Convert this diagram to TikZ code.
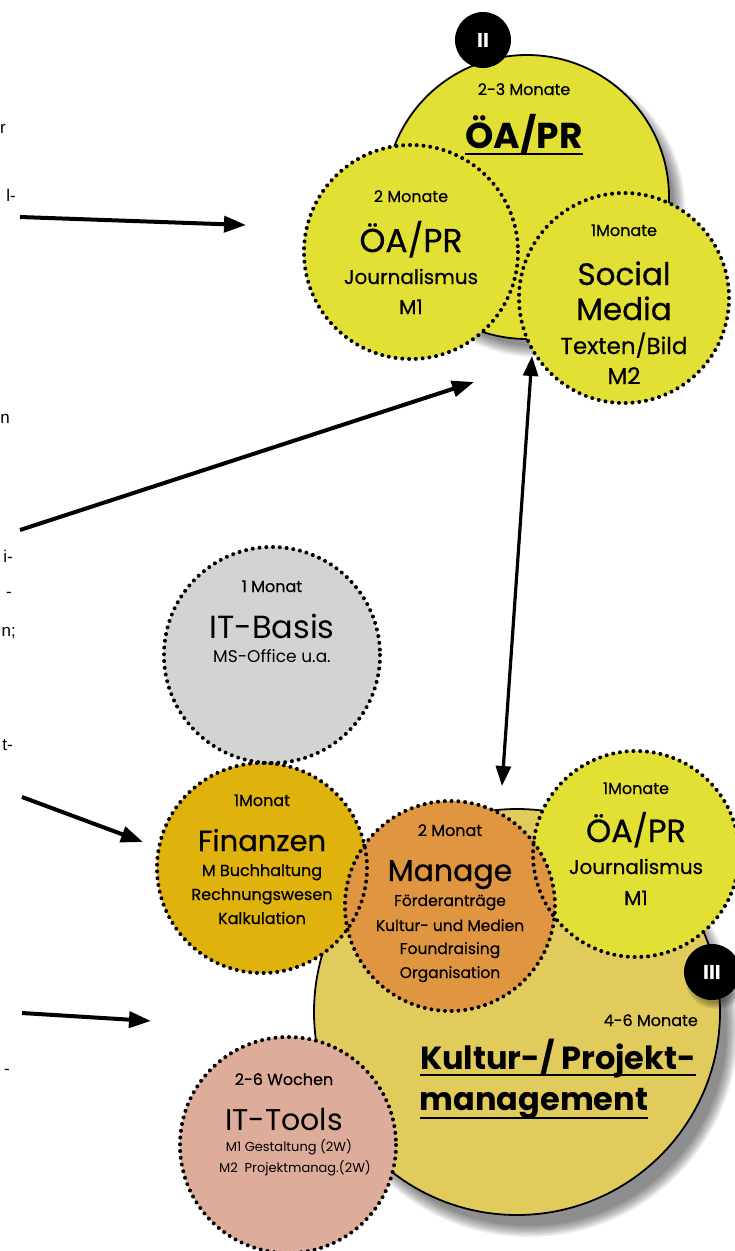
\documentclass[tikz,border=0pt]{standalone}
\usepackage{fontspec}
\setmainfont{Poppins}
\newfontfamily\med{Poppins}[FakeBold=0.6]
\newfontfamily\arialf{Liberation Sans}
\usetikzlibrary{arrows.meta,calc,decorations.markings}
\definecolor{yel}{RGB}{226,224,52}
\definecolor{gry}{RGB}{211,211,211}
\definecolor{fin}{RGB}{224,178,14}
\definecolor{mng}{RGB}{224,150,64}
\definecolor{kul}{RGB}{224,203,92}
\definecolor{pnk}{RGB}{221,172,154}
\newcommand\fs[1]{\fontsize{#1}{#1}\selectfont}
\begin{document}
\begin{tikzpicture}[x=1pt,y=-1pt,
  dots/.style={decoration={markings, mark=between positions 0 and 0.999 step 6.8pt with {\fill[black] (0,0) circle[radius=2pt];}}, decorate},
  solidb/.style={draw=black, line width=1.8pt},
  lbl/.style={inner sep=0pt, anchor=base, align=center},
  frag/.style={inner sep=0pt, anchor=base east, font=\arialf\fs{17}},
  arr/.style={line width=4pt, -{Triangle[length=22pt,width=16pt]}},
  darr/.style={line width=3.2pt, {Triangle[length=20pt,width=15pt]}-{Triangle[length=20pt,width=15pt]}},
  badge/.style={circle, fill=black, text=white, inner sep=0pt, minimum size=56pt, font=\bfseries\fs{20}}]
\useasboundingbox (0,0) rectangle (735,1251);

% ---------- top group ----------
\coordinate (topc) at (527,197);
\foreach \k in {0,...,7}
  \fill[black,opacity=0.07] ($(topc)+(10,12)$) circle ({148-1.6*\k});
\fill[yel] (topc) circle (142);
\draw[solidb] (topc) circle (142);
\node[badge] (b2) at (483,40) {II};

\coordinate (oac) at (411,252);
\coordinate (smc) at (624,298);
\fill[yel] (oac) circle (107);
\fill[yel] (smc) circle (105);
\path[dots] (oac) circle (107);
\path[dots] (smc) circle (105);

\node[lbl, font=\med\fs{16}] (t1) at (524,95) {2-3 Monate};
\node[lbl, font=\bfseries\fs{36}] (t2) at (524,148) {ÖA/PR};
\draw[line width=2.2pt] ($(t2.base west)+(0,6)$) -- ($(t2.base east)+(0,6)$);

\node[lbl, font=\med\fs{16}] (t3) at (411,202) {2 Monate};
\node[lbl, font=\med\fs{33}] (t4) at (411,252) {ÖA/PR};
\node[lbl, font=\med\fs{20}] (t5) at (411,284) {Journalismus};
\node[lbl, font=\med\fs{20}] (t6) at (411,314) {M1};

\node[lbl, font=\med\fs{16}] (t7) at (624,236) {1Monate};
\node[lbl, font=\med\fs{31}] (t8) at (624,285) {Social};
\node[lbl, font=\med\fs{31}] (t9) at (624,320) {Media};
\node[lbl, font=\med\fs{23}] (t10) at (624,354) {Texten/Bild};
\node[lbl, font=\med\fs{23}] (t11) at (624,384) {M2};

% ---------- bottom group ----------
\coordinate (kulc) at (517,1012);
\foreach \k in {0,...,7}
  \fill[black,opacity=0.07] ($(kulc)+(12,16)$) circle ({209-1.6*\k});
\fill[kul] (kulc) circle (203);
\draw[solidb] (kulc) circle (203);

\coordinate (itbc) at (272,655);
\coordinate (finc) at (262,868);
\coordinate (manc) at (450,906);
\coordinate (oa3c) at (636,854);
\coordinate (ittc) at (288,1145);
\fill[gry] (itbc) circle (108);
\fill[fin] (finc) circle (105);
\fill[yel] (oa3c) circle (103);
\fill[mng] (manc) circle (105);
\fill[pnk] (ittc) circle (108);
\path[dots] (itbc) circle (108);
\path[dots] (finc) circle (105);
\path[dots] (oa3c) circle (103);
\path[dots] (manc) circle (105);
\path[dots] (ittc) circle (108);

\foreach \k in {0,...,4}
  \fill[black,opacity=0.08] (716,978) circle ({31-1.5*\k});
\node[badge] (b3) at (712,972) {III};

\node[lbl, font=\med\fs{16}] (u1) at (272,592) {1 Monat};
\node[lbl, font=\fs{32}] (u2) at (272,638) {IT-Basis};
\node[lbl, font=\fs{17}] (u3) at (272,662) {MS-Office u.a.};

\node[lbl, font=\med\fs{16}] (f1) at (262,806) {1Monat};
\node[lbl, font=\med\fs{29}] (f2) at (262,851) {Finanzen};
\node[lbl, font=\med\fs{16}] (f3) at (262,876) {M Buchhaltung};
\node[lbl, font=\med\fs{16}] (f4) at (262,900) {Rechnungswesen};
\node[lbl, font=\med\fs{16}] (f5) at (262,924) {Kalkulation};

\node[lbl, font=\med\fs{16}] (m1) at (450,836) {2 Monat};
\node[lbl, font=\med\fs{30}] (m2) at (450,881) {Manage};
\node[lbl, font=\med\fs{15.5}] (m3) at (450,906) {Förderanträge};
\node[lbl, font=\med\fs{15.5}] (m4) at (450,931) {Kultur- und Medien};
\node[lbl, font=\med\fs{15.5}] (m5) at (450,954) {Foundraising};
\node[lbl, font=\med\fs{15.5}] (m6) at (450,978) {Organisation};

\node[lbl, font=\med\fs{16}] (o1) at (636,794) {1Monate};
\node[lbl, font=\med\fs{32}] (o2) at (636,842) {ÖA/PR};
\node[lbl, font=\med\fs{20}] (o3) at (636,874) {Journalismus};
\node[lbl, font=\med\fs{20}] (o4) at (636,905) {M1};

\node[inner sep=0pt, anchor=base east, font=\med\fs{16}] (k1) at (698,1026) {4-6 Monate};
\node[lbl, font=\bfseries\fs{32}] (k2) at (558,1069) {Kultur-/ Projekt-};
\draw[line width=2.2pt] ($(k2.base west)+(0,6)$) -- ($(k2.base east)+(0,6)$);
\node[lbl, font=\bfseries\fs{32}] (k3) at (534,1110) {management};
\draw[line width=2.2pt] ($(k3.base west)+(0,8)$) -- ($(k3.base east)+(0,8)$);

\node[lbl, font=\med\fs{16}] (w1) at (284,1085) {2-6 Wochen};
\node[lbl, font=\fs{30}] (w2) at (284,1130) {IT-Tools};
\node[lbl, font=\fs{13}] (w3) at (289,1151) {M1 Gestaltung (2W)};
\node[lbl, font=\fs{13}] (w4) at (295,1172) {M2\ \ Projektmanag.(2W)};

% ---------- left cut-off texts ----------
\node[frag] (l1) at (6,133) {r};
\node[frag] (l2) at (16,201) {l-};
\node[frag] (l3) at (10,423) {n};
\node[frag] (l4) at (13,562) {i-};
\node[frag] (l5) at (12,597) {-};
\node[frag] (l6) at (16,636) {n;};
\node[frag] (l7) at (13,750) {t-};
\node[frag] (l8) at (10,1074) {-};

% ---------- arrows ----------
\coordinate (a1s) at (20,217);
\coordinate (a1e) at (246,225);
\coordinate (a2s) at (20,530);
\coordinate (a2e) at (474,382);
\coordinate (a3s) at (502,786);
\coordinate (a3e) at (532,356);
\coordinate (a4s) at (22,797);
\coordinate (a4e) at (143,842);
\coordinate (a5s) at (22,1013);
\coordinate (a5e) at (151,1021);
\draw[arr] (a1s) -- (a1e);
\draw[arr] (a2s) -- (a2e);
\draw[darr] (a3s) -- (a3e);
\draw[arr] (a4s) -- (a4e);
\draw[arr] (a5s) -- (a5e);
\end{tikzpicture}
\end{document}
